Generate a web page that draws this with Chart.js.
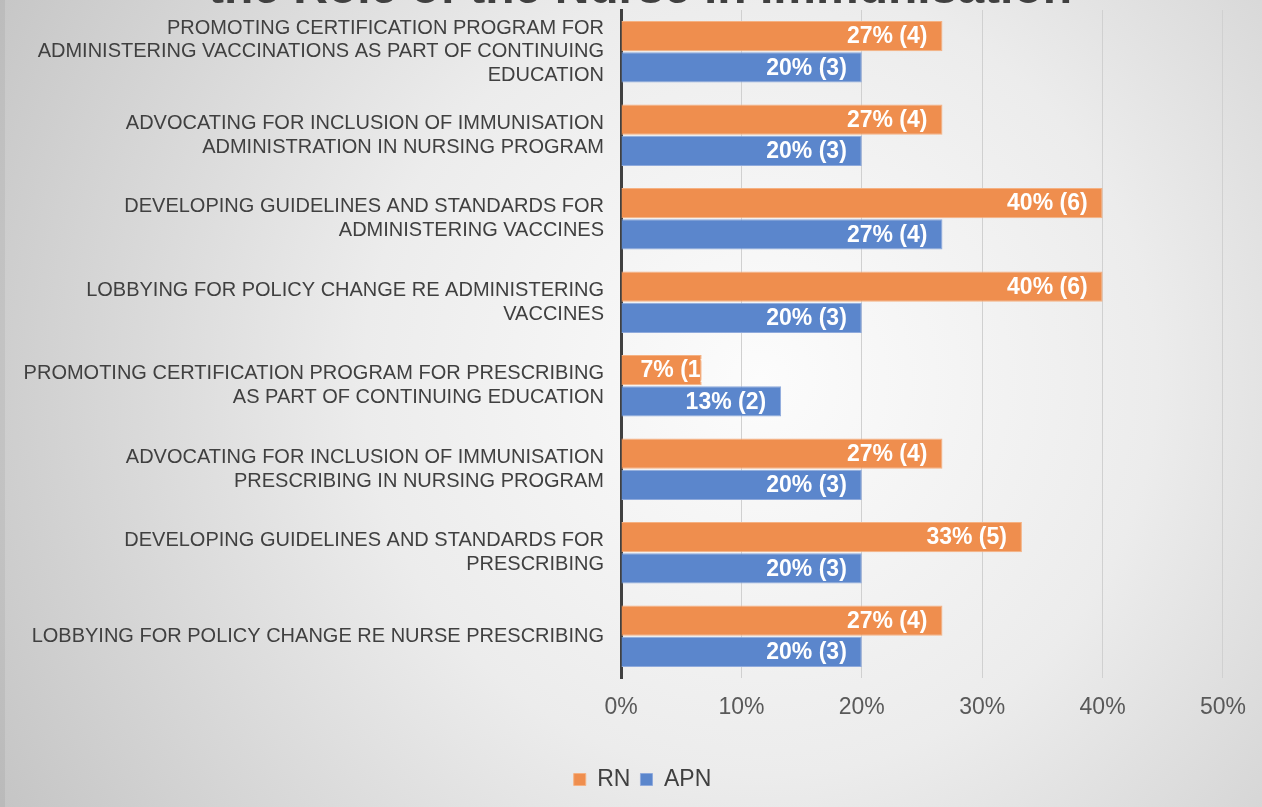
<!DOCTYPE html>
<html>
<head>
<meta charset="utf-8">
<script src="https://cdn.jsdelivr.net/npm/chart.js@4/dist/chart.umd.min.js"></script>
<style>
  html, body { margin: 0; padding: 0; background: #ddd; }
  #wrap { width: 1262px; height: 807px; }
</style>
</head>
<body>
<div id="wrap"><canvas id="c" width="1262" height="807"></canvas></div>
<script>
// ---- data ----
const categories = [
  ["PROMOTING CERTIFICATION PROGRAM FOR", "ADMINISTERING VACCINATIONS AS PART OF CONTINUING", "EDUCATION"],
  ["ADVOCATING FOR INCLUSION OF IMMUNISATION", "ADMINISTRATION IN NURSING PROGRAM"],
  ["DEVELOPING GUIDELINES AND STANDARDS FOR", "ADMINISTERING VACCINES"],
  ["LOBBYING FOR POLICY CHANGE RE ADMINISTERING", "VACCINES"],
  ["PROMOTING CERTIFICATION PROGRAM FOR PRESCRIBING", "AS PART OF CONTINUING EDUCATION"],
  ["ADVOCATING FOR INCLUSION OF IMMUNISATION", "PRESCRIBING IN NURSING PROGRAM"],
  ["DEVELOPING GUIDELINES AND STANDARDS FOR", "PRESCRIBING"],
  ["LOBBYING FOR POLICY CHANGE RE NURSE PRESCRIBING"]
];
const rnValues  = [26.7, 26.7, 40, 40, 6.7, 26.7, 33.3, 26.7];
const rnCounts  = [4, 4, 6, 6, 1, 4, 5, 4];
const apnValues = [20, 20, 26.7, 20, 13.3, 20, 20, 20];
const apnCounts = [3, 3, 4, 3, 2, 3, 3, 3];
const xTicks = ["0%", "10%", "20%", "30%", "40%", "50%"];
const titleText = "the Role of the Nurse in Immunisation";

const FONT = "'Liberation Sans', Arial, sans-serif";

const bgPlugin = {
  id: 'bg',
  afterLayout(chart) {
    if (chart.legend) {
      chart.legend.left += 30;
      chart.legend.right += 30;
    }
  },
  beforeDraw(chart) {
    const ctx = chart.ctx;
    const w = chart.width, h = chart.height;
    ctx.save();
    const g = ctx.createRadialGradient(760, 380, 0, 760, 380, 880);
    g.addColorStop(0, '#fcfcfc');
    g.addColorStop(0.45, '#ececec');
    g.addColorStop(1, '#c4c4c4');
    ctx.fillStyle = g;
    ctx.fillRect(0, 0, w, h);
    ctx.fillStyle = 'rgba(0,0,0,0.05)';
    ctx.fillRect(0, 0, 5, h);
    // title (cut off at top)
    ctx.fillStyle = '#404040';
    ctx.font = "bold 48px " + FONT;
    ctx.textAlign = 'center';
    ctx.textBaseline = 'alphabetic';
    ctx.fillText(titleText, 640, 3);
    ctx.restore();
  }
};

const labelPlugin = {
  id: 'barLabels',
  afterDatasetsDraw(chart) {
    const ctx = chart.ctx;
    const counts = [rnCounts, apnCounts];
    chart.data.datasets.forEach((ds, di) => {
      const meta = chart.getDatasetMeta(di);
      meta.data.forEach((bar, i) => {
        const p = bar.getProps(['x', 'y', 'base', 'height'], true);
        const v = ds.data[i];
        const txt = Math.round(v) + '% (' + counts[di][i] + ')';
        ctx.save();
        ctx.font = "bold 23px " + FONT;
        const w = ctx.measureText(txt).width;
        const left = Math.min(p.base, p.x), right = Math.max(p.base, p.x);
        ctx.beginPath();
        ctx.rect(left, p.y - p.height / 2, right - left, p.height);
        ctx.clip();
        let tx = Math.max(right - 15 - w, left + 19);
        ctx.fillStyle = '#ffffff';
        ctx.textAlign = 'left';
        ctx.textBaseline = 'middle';
        ctx.fillText(txt, tx, p.y + 1);
        ctx.restore();
      });
    });
  }
};

new Chart(document.getElementById('c'), {
  type: 'bar',
  data: {
    labels: categories,
    datasets: [
      { label: 'RN', data: rnValues, backgroundColor: '#EF8E4E', borderColor: '#F5B182', borderWidth: 1,
        categoryPercentage: 0.75, barPercentage: 0.97 },
      { label: 'APN', data: apnValues, backgroundColor: '#5B86CC', borderColor: '#8FAADC', borderWidth: 1,
        categoryPercentage: 0.75, barPercentage: 0.97 }
    ]
  },
  options: {
    indexAxis: 'y',
    responsive: false,
    animation: false,
    layout: { padding: { top: 10, right: 37, left: 0, bottom: 6 } },
    plugins: {
      legend: {
        position: 'bottom',
        labels: {
          font: { family: FONT, size: 23 },
          color: '#404040',
          boxWidth: 12, boxHeight: 12, padding: 10
        }
      },
      tooltip: { enabled: false },
      title: { display: false }
    },
    scales: {
      x: {
        min: 0, max: 50,
        ticks: {
          stepSize: 10,
          padding: 16,
          color: '#595959',
          font: { family: FONT, size: 23 },
          callback: (v, i) => xTicks[i]
        },
        grid: { color: '#d0d0d0', lineWidth: 1, drawTicks: false },
        border: { display: false },
        afterFit(scale) { scale.height = 80; }
      },
      y: {
        ticks: {
          padding: 17,
          color: '#404040',
          font: { family: FONT, size: 20, lineHeight: 1.18 }
        },
        grid: { display: false, drawTicks: false },
        border: { display: true, color: '#404040', width: 3 },
        afterFit(scale) {
          scale.width = 621;
          scale.paddingTop = 0;
          scale.paddingBottom = 0;
        }
      }
    }
  },
  plugins: [bgPlugin, labelPlugin]
});
</script>
</body>
</html>
